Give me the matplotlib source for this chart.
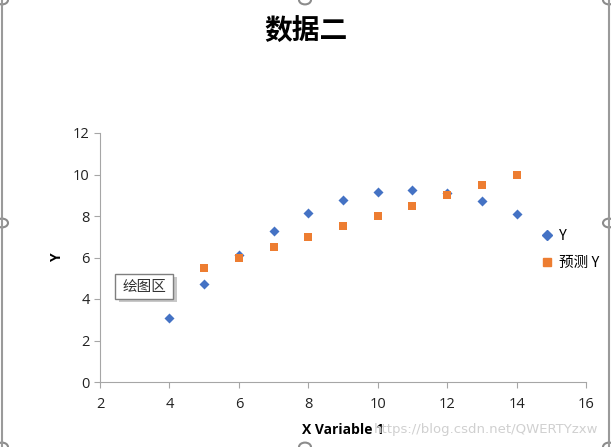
import matplotlib.pyplot as plt
from matplotlib.patches import Circle, Rectangle
import matplotlib.lines as mlines

plt.rcParams['font.family'] = ['Noto Sans CJK SC', 'DejaVu Sans']

# data (Anscombe II, sorted by x)
x_vals = [4, 5, 6, 7, 8, 9, 10, 11, 12, 13, 14]
y_vals = [3.10, 4.74, 6.13, 7.26, 8.14, 8.77, 9.14, 9.26, 9.13, 8.74, 8.10]
y_pred = [5.0, 5.5, 6.0, 6.5, 7.0, 7.5, 8.0, 8.5, 9.0, 9.5, 10.0]

blue = '#4472C4'
orange = '#ED7D31'
grey = '#A6A6A6'

fig = plt.figure(figsize=(6.11, 4.47), dpi=100)
ax = fig.add_axes([100 / 611, 65 / 447, 486 / 611, 249 / 447])

ax.scatter(x_vals, y_vals, marker='D', s=26, color=blue, zorder=3, linewidths=0)
ax.scatter(x_vals, y_pred, marker='s', s=40, color=orange, zorder=3, linewidths=0)

ax.set_xlim(2, 16)
ax.set_ylim(0, 12)
ax.set_xticks(range(2, 17, 2))
ax.set_yticks(range(0, 13, 2))
for s in ['top', 'right']:
    ax.spines[s].set_visible(False)
for s in ['left', 'bottom']:
    ax.spines[s].set_color(grey)
ax.tick_params(direction='out', length=4, color=grey, labelsize=10.5, labelcolor='#222222')
for lab in ax.get_xticklabels() + ax.get_yticklabels():
    lab.set_family('Open Sans')
ax.tick_params(axis='x', pad=7)

ax.set_xlabel('X Variable 1', fontsize=10, fontweight='bold', family='Open Sans', labelpad=8)
ax.set_ylabel('Y', fontsize=10, fontweight='bold', family='Open Sans', labelpad=6)

fig.text(0.5, 1 - 32 / 447, '数据二', ha='center', va='center', fontsize=20, fontweight='bold')

# legend
h1 = mlines.Line2D([], [], color=blue, marker='D', linestyle='', markersize=5)
h2 = mlines.Line2D([], [], color=orange, marker='s', linestyle='', markersize=6)
leg = fig.legend([h1, h2], ['Y', '预测 Y'], loc='upper left',
                 bbox_to_anchor=(528 / 611, 1 - 216 / 447), frameon=False,
                 handlelength=0.8, handletextpad=0.4, labelspacing=0.9, fontsize=10.5)

# tooltip "绘图区" with shadow
fig.add_artist(Rectangle((119 / 611, 1 - 302 / 447), 58 / 611, 25 / 447,
                         transform=fig.transFigure, facecolor='#C8C8C8', edgecolor='none', zorder=9))
fig.add_artist(Rectangle((115 / 611, 1 - 299 / 447), 58 / 611, 25 / 447,
                         transform=fig.transFigure, facecolor='white', edgecolor='#7F7F7F', lw=1, zorder=10))
fig.text(144 / 611, 1 - 287 / 447, '绘图区', fontsize=10.5, ha='center', va='center',
         color='#333333', zorder=11)

# watermark
fig.text(598 / 611, 1 - 430 / 447, 'https://blog.csdn.net/QWERTYzxw', fontsize=9.5,
         color='#D0D0D0', ha='right', va='center', family='DejaVu Sans')

# selection frame and handles
fig.add_artist(mlines.Line2D([2 / 611, 2 / 611], [0, 1], color='#9A9A9A', lw=1.5))
fig.add_artist(mlines.Line2D([609 / 611, 609 / 611], [0, 1], color='#9A9A9A', lw=1.5))
for hx, hy in [(2, 0), (305, 0), (609, 0), (2, 223), (609, 223), (2, 447), (305, 447), (609, 447)]:
    fig.add_artist(Circle((hx / 611, 1 - hy / 447), 6 / 611, transform=fig.transFigure,
                          facecolor='white', edgecolor='#8C8C8C', lw=1.5))

fig.savefig('out.png', dpi=100)
